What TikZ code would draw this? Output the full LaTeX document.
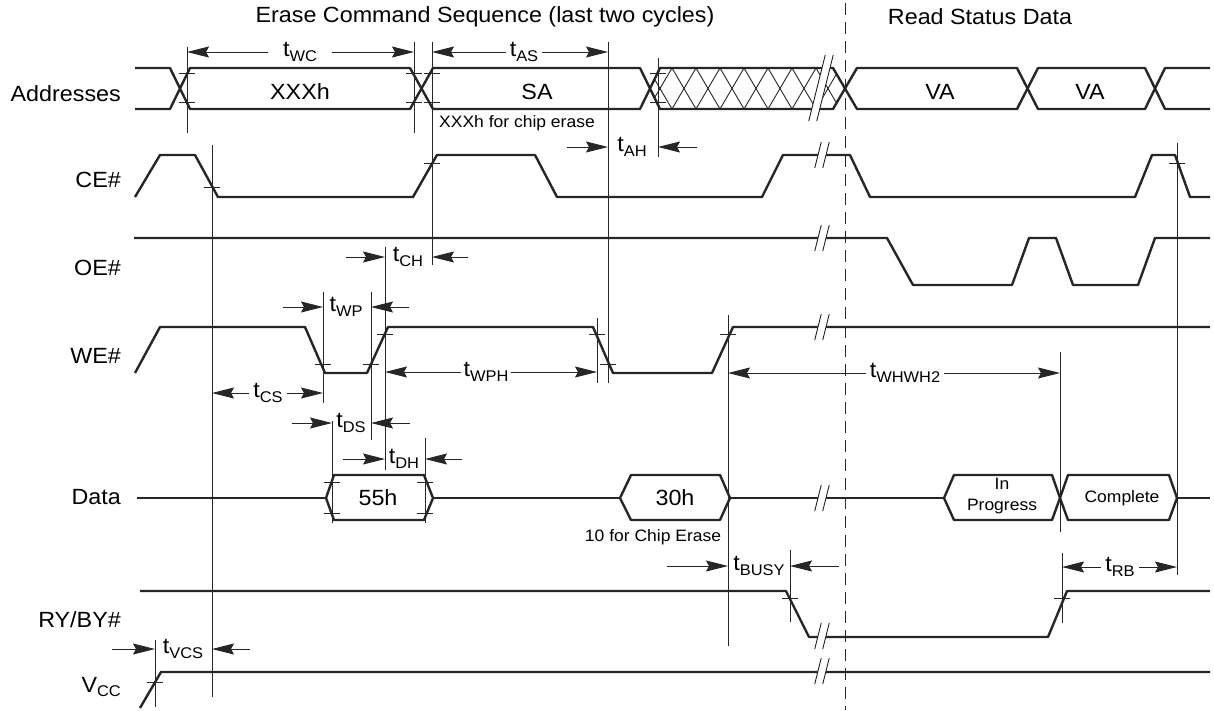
\documentclass[tikz,border=0pt]{standalone}
\usepackage{fontspec}
\setmainfont[FakeStretch=1.06]{Liberation Sans}
\usetikzlibrary{arrows.meta}
\newcommand{\mainsz}{\fontsize{22}{26}\selectfont}
\newcommand{\smsz}{\fontsize{16.5}{21}\selectfont}
\newcommand{\subsz}{\fontsize{15.5}{16}\selectfont}
\newcommand{\tsb}[1]{t\raisebox{-4.5pt}{\subsz #1}}
\newcommand{\brkmk}[3]{%
  \fill[white] ({#1-4-0.25*#3},{#2+#3}) -- ({#1-4+0.25*#3},{#2-#3}) -- ({#1+4+0.25*#3},{#2-#3}) -- ({#1+4-0.25*#3},{#2+#3}) -- cycle;
  \draw[thinl] ({#1-4-0.25*#3},{#2+#3}) -- ({#1-4+0.25*#3},{#2-#3});
  \draw[thinl] ({#1+4-0.25*#3},{#2+#3}) -- ({#1+4+0.25*#3},{#2-#3});}
\begin{document}
\begin{tikzpicture}[x=1pt,y=-1pt,
  sig/.style={line width=2.4pt,draw=black!85,line join=round},
  thinl/.style={line width=0.9pt,draw=black!85},
  dim/.style={thinl,-{Stealth[length=22pt,width=11pt,inset=3pt]}},
  lbl/.style={font=\mainsz,inner sep=0pt},
  tl/.style={font=\mainsz,inner sep=4pt},
  sm/.style={font=\smsz,inner sep=0pt,align=center}]
\useasboundingbox (0,0) rectangle (1214,710);

% titles
\node[lbl] (title1) at (485,17) {Erase Command Sequence (last two cycles)};
\node[lbl] (title2) at (980,17) {Read Status Data};

% signal names
\node[lbl,anchor=east] (nAddr) at (121,94) {Addresses};
\node[lbl,anchor=east] (nCE) at (121,180) {CE\#};
\node[lbl,anchor=east] (nOE) at (121,268) {OE\#};
\node[lbl,anchor=east] (nWE) at (121,356) {WE\#};
\node[lbl,anchor=east] (nData) at (121,497) {Data};
\node[lbl,anchor=east] (nRY) at (121,620) {RY/BY\#};
\node[lbl,anchor=east] (nVCC) at (121,687) {V\raisebox{-4.5pt}{\subsz CC}};

% hatch (don't care)
\begin{scope}
\clip (651,88.5) -- (660,68) -- (833,68) -- (845,88.5) -- (833,109) -- (660,109) -- cycle;
\foreach \a in {648,672,...,840} {
  \draw[thinl] (\a,68) -- ({\a+24},109);
  \draw[thinl] ({\a+24},68) -- (\a,109);
}
\end{scope}

% address bus
\draw[sig] (135,68) -- (170,68) -- (190,109) -- (410,109) -- (433,68) -- (640,68) -- (660,109) -- (833,109) -- (857,68) -- (1017,68) -- (1038,109) -- (1145,109) -- (1165,68) -- (1210,68);
\draw[sig] (135,109) -- (170,109) -- (190,68) -- (410,68) -- (433,109) -- (640,109) -- (660,68) -- (833,68) -- (857,109) -- (1017,109) -- (1038,68) -- (1145,68) -- (1165,109) -- (1210,109);
\node[lbl] (xxxh) at (300,92) {XXXh};
\node[lbl] (sa) at (537,92) {SA};
\node[lbl] (va1) at (940,92) {VA};
\node[lbl] (va2) at (1090,92) {VA};
\node[sm,anchor=west] (chip1) at (439,123) {XXXh for chip erase};

% CE#
\draw[sig] (135,197) -- (160,155) -- (195,155) -- (218,197) -- (413,197) -- (437,155) -- (535,155) -- (557,197) -- (762,197) -- (783,155) -- (850,155) -- (870,197) -- (1135,197) -- (1152,155) -- (1175,155) -- (1190,197) -- (1210,197);
% OE#
\draw[sig] (134,238) -- (887,238) -- (913,285) -- (1012,285) -- (1029,238) -- (1056,238) -- (1073,285) -- (1138,285) -- (1155,238) -- (1210,238);
% WE#
\draw[sig] (135,373) -- (160,327) -- (305,327) -- (325,373) -- (367,373) -- (388,327) -- (593,327) -- (613,373) -- (712,373) -- (733,327) -- (1210,327);
% Data
\draw[sig] (137,498) -- (326,498);
\draw[sig] (326,498) -- (334,475) -- (424,475) -- (433,498) -- (424,520) -- (334,520) -- cycle;
\draw[sig] (433,498) -- (620,498);
\draw[sig] (620,498) -- (631,475) -- (720,475) -- (730,498) -- (720,520) -- (631,520) -- cycle;
\draw[sig] (730,498) -- (944,498);
\draw[sig] (944,498) -- (954,475) -- (1052,475) -- (1060,498) -- (1052,520) -- (954,520) -- cycle;
\draw[sig] (1060,498) -- (1068,475) -- (1169,475) -- (1177,498) -- (1169,520) -- (1068,520) -- cycle;
\draw[sig] (1177,498) -- (1210,498);
\node[lbl] (d55) at (378,498) {55h};
\node[lbl] (d30) at (675,498) {30h};
\node[sm] (dinp) at (1002,496) {In\\Progress};
\node[sm] (dcomp) at (1122,498) {Complete};
\node[sm] (chip2) at (653,537) {10 for Chip Erase};
% RY/BY#
\draw[sig] (140,591) -- (786,591) -- (809,637) -- (1048,637) -- (1067,591) -- (1210,591);
% VCC
\draw[sig] (140,708) -- (161,672) -- (1210,672);

% breaks
\brkmk{821}{88}{33}
\brkmk{822}{155}{13}
\brkmk{822}{238}{13}
\brkmk{822}{327}{13}
\brkmk{822}{498}{13}
\brkmk{822}{636}{13}
\brkmk{822}{671}{13}

% dashed separator
\draw[thinl,dash pattern=on 12pt off 7pt] (845,3) -- (845,710);

% reference verticals
\draw[thinl] (187,47) -- (187,133);
\draw[thinl] (414,42) -- (414,133);
\draw[thinl] (432,42) -- (432,265);
\draw[thinl] (608,42) -- (608,383);
\draw[thinl] (658,58) -- (658,157);
\draw[thinl] (212,145) -- (212,697);
\draw[thinl] (385,247) -- (385,470);
\draw[thinl] (323,292) -- (323,403);
\draw[thinl] (371,292) -- (371,440);
\draw[thinl] (597,318) -- (597,383);
\draw[thinl] (728,315) -- (728,646);
\draw[thinl] (1060,352) -- (1060,532);
\draw[thinl] (332,421) -- (332,523);
\draw[thinl] (425,438) -- (425,523);
\draw[thinl] (790,550) -- (790,622);
\draw[thinl] (1062,553) -- (1062,623);
\draw[thinl] (1177,143) -- (1177,575);
\draw[thinl] (155,640) -- (155,707);

% ticks
\foreach \x/\y in {187/73,187/102,414/73,414/102,432/73,432/102,658/73,658/102,
  212/187,432/163,1177/163,
  323/364,371/364,385/334,597/334,608/364,728/334,
  332/482,332/513,425/482,425/513,
  790/598,1062/598,155/682}
  \draw[thinl] ({\x-8},\y) -- ({\x+8},\y);

% timing parameters
\node[tl,inner xsep=15pt] (twc) at (300,52) {\tsb{WC}};
\draw[dim] (twc) -- (187,52);
\draw[dim] (twc) -- (414,52);
\node[tl] (tas) at (524,52) {\tsb{AS}};
\draw[dim] (tas) -- (432,52);
\draw[dim] (tas) -- (608,52);
\node[tl] (tah) at (632,147) {\tsb{AH}};
\draw[dim] (567,147) -- (608,147);
\draw[dim] (697,147) -- (658,147);
\node[tl] (tch) at (408,257) {\tsb{CH}};
\draw[dim] (346,257) -- (385,257);
\draw[dim] (468,257) -- (432,257);
\node[tl] (twp) at (346,307) {\tsb{WP}};
\draw[dim] (283,307) -- (323,307);
\draw[dim] (409,307) -- (371,307);
\node[tl] (tcs) at (268,393) {\tsb{CS}};
\draw[dim] (tcs) -- (212,393);
\draw[dim] (tcs) -- (323,393);
\node[tl,inner sep=2pt] (twph) at (486,372) {\tsb{WPH}};
\draw[dim] (twph) -- (385,372);
\draw[dim] (twph) -- (597,372);
\node[tl] (tds) at (351,423) {\tsb{DS}};
\draw[dim] (292,423) -- (332,423);
\draw[dim] (410,423) -- (371,423);
\node[tl] (tdh) at (404,459) {\tsb{DH}};
\draw[dim] (343,459) -- (385,459);
\draw[dim] (462,459) -- (425,459);
\node[tl] (twhwh) at (905,373) {\tsb{WHWH2}};
\draw[dim] (twhwh) -- (728,373);
\draw[dim] (twhwh) -- (1060,373);
\node[tl] (tbusy) at (759,566) {\tsb{BUSY}};
\draw[dim] (667,566) -- (728,566);
\draw[dim] (839,566) -- (790,566);
\node[tl] (trb) at (1120,567) {\tsb{RB}};
\draw[dim] (trb) -- (1062,567);
\draw[dim] (trb) -- (1177,567);
\node[tl] (tvcs) at (183,649) {\tsb{VCS}};
\draw[dim] (112,649) -- (155,649);
\draw[dim] (250,649) -- (212,649);
\end{tikzpicture}
\end{document}
